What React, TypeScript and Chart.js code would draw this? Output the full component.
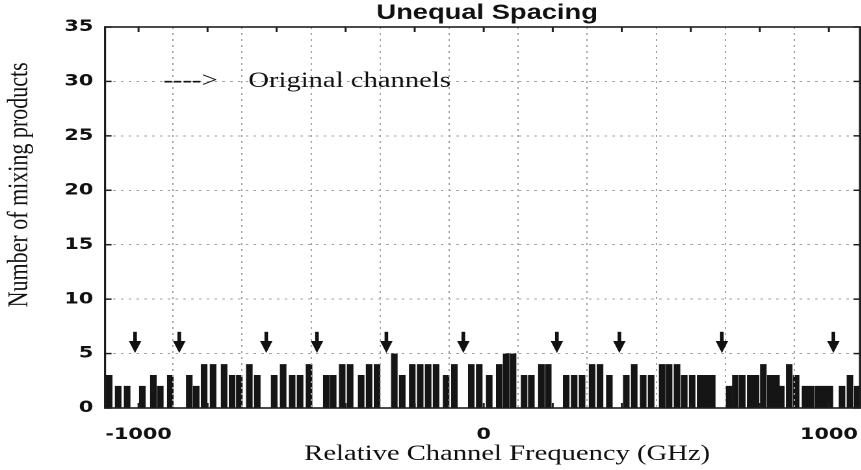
import React, { useEffect, useRef } from "react";
import { Chart, registerables } from "chart.js";

Chart.register(...registerables);

const TITLE = "Unequal Spacing";
const X_TITLE = "Relative Channel Frequency (GHz)";
const Y_TITLE = "Number of mixing products";
const LEGEND_ARROW = "---->";
const LEGEND_TEXT = "Original channels";

// mixing product frequencies (GHz) and counts
const BAR_FREQ = [
  -1085, -1059, -1033, -989, -957, -937, -908, -853, -833, -810, -784, -752,
  -729, -708, -679, -656, -607, -581, -555, -532, -506, -456, -436, -410,
  -387, -355, -332, -309, -259, -236, -207, -184, -161, -138, -109, -85,
  -36, -13, 16, 45, 65, 85, 117, 138, 167, 187, 239, 262, 285, 314, 337,
  364, 413, 436, 462, 485, 517, 537, 560, 581, 604, 627, 645, 662, 711,
  729, 749, 772, 789, 810, 830, 848, 862, 885, 905, 931, 949, 969, 986,
  1003, 1038, 1061, 1082,
];
const BAR_COUNT = [
  3, 2, 2, 2, 3, 2, 3, 3, 2, 4, 4, 4,
  3, 3, 4, 3, 3, 4, 3, 3, 4, 3, 3, 4,
  4, 3, 4, 4, 5, 3, 4, 4, 4, 4, 3, 4,
  4, 4, 3, 4, 5, 5, 3, 3, 4, 4, 3, 3, 3, 4, 4,
  3, 3, 4, 3, 3, 4, 4, 4, 3, 3, 3, 3, 3, 2,
  3, 3, 3, 3, 4, 3, 3, 2, 4, 3, 2, 2, 2, 2,
  2, 2, 3, 2,
];

// original channel positions (GHz), marked by arrows
const CHANNELS = [-1010, -882, -630, -483, -282, -59, 212, 393, 690, 1013];

const X_TICKS = [-1000, -800, -600, -400, -200, 0, 200, 400, 600, 800, 1000];
const X_LABELED = [-1000, 0, 1000];
const Y_TICKS = [0, 5, 10, 15, 20, 25, 30, 35];
const X_MIN = -1097;
const X_MAX = 1090;
const Y_MIN = 0;
const Y_MAX = 35;

const STRETCH = 1.3;
const W = 662;
const H = 470;

const decorPlugin = {
  id: "decor",
  afterDraw(chart: any) {
    const { ctx, chartArea: a, scales } = chart;
    const x = scales.x;
    const y = scales.y;
    ctx.save();
    // box
    ctx.strokeStyle = "#1e1e1e";
    ctx.lineWidth = 1.6;
    ctx.strokeRect(a.left, a.top, a.right - a.left, a.bottom - a.top);
    // inward tick marks
    ctx.lineWidth = 1.5;
    const seg = (x1: number, y1: number, x2: number, y2: number) => {
      ctx.beginPath();
      ctx.moveTo(x1, y1);
      ctx.lineTo(x2, y2);
      ctx.stroke();
    };
    X_TICKS.forEach((v) => {
      const px = x.getPixelForValue(v);
      seg(px, a.top, px, a.top + 5);
      seg(px, a.bottom, px, a.bottom - 5);
    });
    Y_TICKS.forEach((v) => {
      const py = y.getPixelForValue(v);
      seg(a.left, py, a.left + 5, py);
      seg(a.right, py, a.right - 5, py);
    });
    // channel arrows
    ctx.fillStyle = "#111";
    CHANNELS.forEach((c) => {
      const px = x.getPixelForValue(c);
      const yTop = y.getPixelForValue(7.0);
      const yHead = y.getPixelForValue(6.15);
      const yTip = y.getPixelForValue(5.05);
      ctx.fillRect(px - 1.4, yTop, 2.8, yHead - yTop + 1);
      ctx.beginPath();
      ctx.moveTo(px - 4.8, yHead);
      ctx.lineTo(px + 4.8, yHead);
      ctx.lineTo(px, yTip);
      ctx.closePath();
      ctx.fill();
    });
    // legend annotation
    ctx.fillStyle = "#111";
    ctx.font = '22px "Liberation Serif"';
    ctx.textAlign = "left";
    ctx.textBaseline = "middle";
    ctx.fillText(LEGEND_ARROW, x.getPixelForValue(-928), y.getPixelForValue(30));
    ctx.fillText(LEGEND_TEXT, x.getPixelForValue(-682), y.getPixelForValue(30));
    // chart title
    ctx.font = 'bold 21px "Liberation Sans"';
    ctx.textAlign = "center";
    ctx.textBaseline = "alphabetic";
    ctx.fillText(TITLE, x.getPixelForValue(10), 19);
    // x axis title
    ctx.font = '22px "Liberation Serif"';
    ctx.fillText(X_TITLE, x.getPixelForValue(68), 460);
    // y axis title
    ctx.translate(15.4, y.getPixelForValue(20.5));
    ctx.rotate(-Math.PI / 2);
    ctx.textBaseline = "middle";
    ctx.fillText(Y_TITLE, 0, 0);
    ctx.restore();
  },
};

export default function App() {
  const ref = useRef<HTMLCanvasElement | null>(null);

  useEffect(() => {
    if (!ref.current) return;
    const tickFont = { family: "DejaVu Sans", size: 16, weight: "bold" as const };
    const zeroPad = (s: any) => {
      s.paddingLeft = 0;
      s.paddingRight = 0;
      s.paddingTop = 0;
      s.paddingBottom = 0;
    };
    const chart = new Chart(ref.current, {
      type: "bar",
      data: {
        datasets: [
          {
            label: "mixing products",
            data: BAR_FREQ.map((f, i) => ({ x: f, y: BAR_COUNT[i] })),
            backgroundColor: "#151515",
            borderWidth: 0,
            barThickness: 4.4,
          },
        ],
      },
      options: {
        animation: false,
        responsive: false,
        devicePixelRatio: 2,
        layout: { padding: { top: 27, right: 0.5, bottom: 0, left: 0 } },
        plugins: {
          legend: { display: false },
          title: { display: false },
          tooltip: { enabled: false },
        },
        scales: {
          x: {
            type: "linear",
            min: X_MIN,
            max: X_MAX,
            offset: false,
            afterBuildTicks: (s: any) => {
              s.ticks = X_TICKS.map((v) => ({ value: v }));
            },
            afterFit: (s: any) => {
              s.height = 62;
              zeroPad(s);
            },
            ticks: {
              autoSkip: false,
              maxRotation: 0,
              minRotation: 0,
              padding: 17,
              color: "#111",
              font: tickFont,
              callback: (v: any) => (X_LABELED.includes(Number(v)) ? String(v) : ""),
            },
            grid: { color: "#a0a0a0", lineWidth: 1, drawTicks: false, z: 1 },
            border: { display: false, dash: [2, 4] },
          },
          y: {
            type: "linear",
            min: Y_MIN,
            max: Y_MAX,
            afterBuildTicks: (s: any) => {
              s.ticks = Y_TICKS.map((v) => ({ value: v }));
            },
            afterFit: (s: any) => {
              s.width = 80.8;
              zeroPad(s);
            },
            ticks: {
              padding: 9,
              color: "#111",
              font: tickFont,
              callback: (v: any) => String(v),
            },
            grid: { color: "#a0a0a0", lineWidth: 1, drawTicks: false, z: 1 },
            border: { display: false, dash: [2, 4] },
          },
        },
      },
      plugins: [decorPlugin],
    });
    return () => chart.destroy();
  }, []);

  return (
    <div style={{ position: "fixed", left: 0, top: 0, width: 861, height: 470, overflow: "hidden", background: "#fff" }}>
      <div
        style={{
          position: "absolute",
          left: 0,
          top: 0,
          width: W,
          height: H,
          transform: `scaleX(${STRETCH})`,
          transformOrigin: "0 0",
        }}
      >
        <canvas ref={ref} width={W} height={H} style={{ display: "block", width: W, height: H }} />
      </div>
    </div>
  );
}
